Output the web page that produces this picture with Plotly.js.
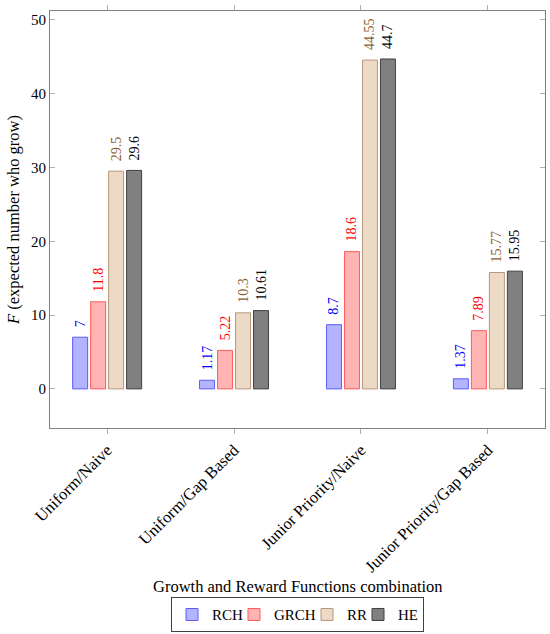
<!DOCTYPE html>
<html>
<head>
<meta charset="utf-8">
<script src="https://cdn.plot.ly/plotly-3.0.1.min.js"></script>
<style>html,body{margin:0;padding:0;background:#fff;}#chart{width:550px;height:634px;}</style>
</head>
<body>
<div id="chart"></div>
<script>
const categories = ['Uniform/Naive', 'Uniform/Gap Based', 'Junior Priority/Naive', 'Junior Priority/Gap Based'];
const seriesNames = ['RCH', 'GRCH', 'RR', 'HE'];
const RCH = [7, 1.17, 8.7, 1.37];
const GRCH = [11.8, 5.22, 18.6, 7.89];
const RR = [29.5, 10.3, 44.55, 15.77];
const HE = [29.6, 10.61, 44.7, 15.95];
const yTicks = [0, 10, 20, 30, 40, 50];

const FONT = 'Liberation Serif, Times New Roman, serif';
const styles = [
  {fill: '#b3b3ff', line: '#5c5cff', text: '#0000ff', lw: 17},
  {fill: '#ffb3b3', line: '#ff5c5c', text: '#ff0000', lw: 28},
  {fill: '#ecd9c6', line: '#b8977a', text: '#8b6130', lw: 6},
  {fill: '#808080', line: '#404040', text: '#000000', lw: undefined}
];
const allSeries = [RCH, GRCH, RR, HE];

const traces = allSeries.map((vals, i) => {
  const t = {
    type: 'bar',
    name: seriesNames[i],
    x: categories,
    y: vals,
    text: vals.map(v => '\u00a0\u00a0' + String(v)),
    textposition: 'outside',
    textangle: -90,
    constraintext: 'none',
    cliponaxis: false,
    textfont: {family: FONT, size: 14, color: styles[i].text},
    marker: {color: styles[i].fill, line: {color: styles[i].line, width: 1}},
    hoverinfo: 'skip'
  };
  if (styles[i].lw) t.legendwidth = styles[i].lw;
  return t;
});

const layout = {
  width: 550, height: 634,
  margin: {l: 50, r: 5, t: 11, b: 206},
  paper_bgcolor: '#ffffff', plot_bgcolor: '#ffffff',
  font: {family: FONT, size: 15, color: '#000'},
  barmode: 'group',
  bargap: 0.433,
  bargroupgap: 0.167,
  showlegend: true,
  legend: {
    orientation: 'h', x: 0.5, xanchor: 'center',
    yref: 'container', y: 0.058, yanchor: 'top',
    bordercolor: '#404040', borderwidth: 1, font: {family: FONT, size: 15},
    itemwidth: 30, tracegroupgap: 0
  },
  xaxis: {
    type: 'category',
    range: [-0.45, 3.45],
    tickangle: -45,
    ticks: 'outside', ticklen: 5, tickcolor: '#b0b0b0',
    showline: true, linecolor: '#808080', linewidth: 1, mirror: 'ticks',
    showgrid: false, zeroline: false,
    tickfont: {family: FONT, size: 16.5}
  },
  yaxis: {
    range: [-5.3, 51.2],
    tickvals: yTicks,
    ticks: 'inside', ticklen: 5, tickcolor: '#b0b0b0',
    showline: true, linecolor: '#808080', linewidth: 1, mirror: 'ticks',
    showgrid: false, zeroline: false,
    tickfont: {family: FONT, size: 15},
    title: {text: '<i>F</i> (expected number who grow)', font: {family: FONT, size: 16.5}, standoff: 7}
  },
  annotations: [{
    xref: 'paper', yref: 'paper', x: 0.5, y: -0.381, xanchor: 'center', yanchor: 'middle',
    text: 'Growth and Reward Functions combination', showarrow: false,
    font: {family: FONT, size: 16.5}
  }]
};

Plotly.newPlot('chart', traces, layout, {displayModeBar: false, staticPlot: true});
</script>
</body>
</html>
